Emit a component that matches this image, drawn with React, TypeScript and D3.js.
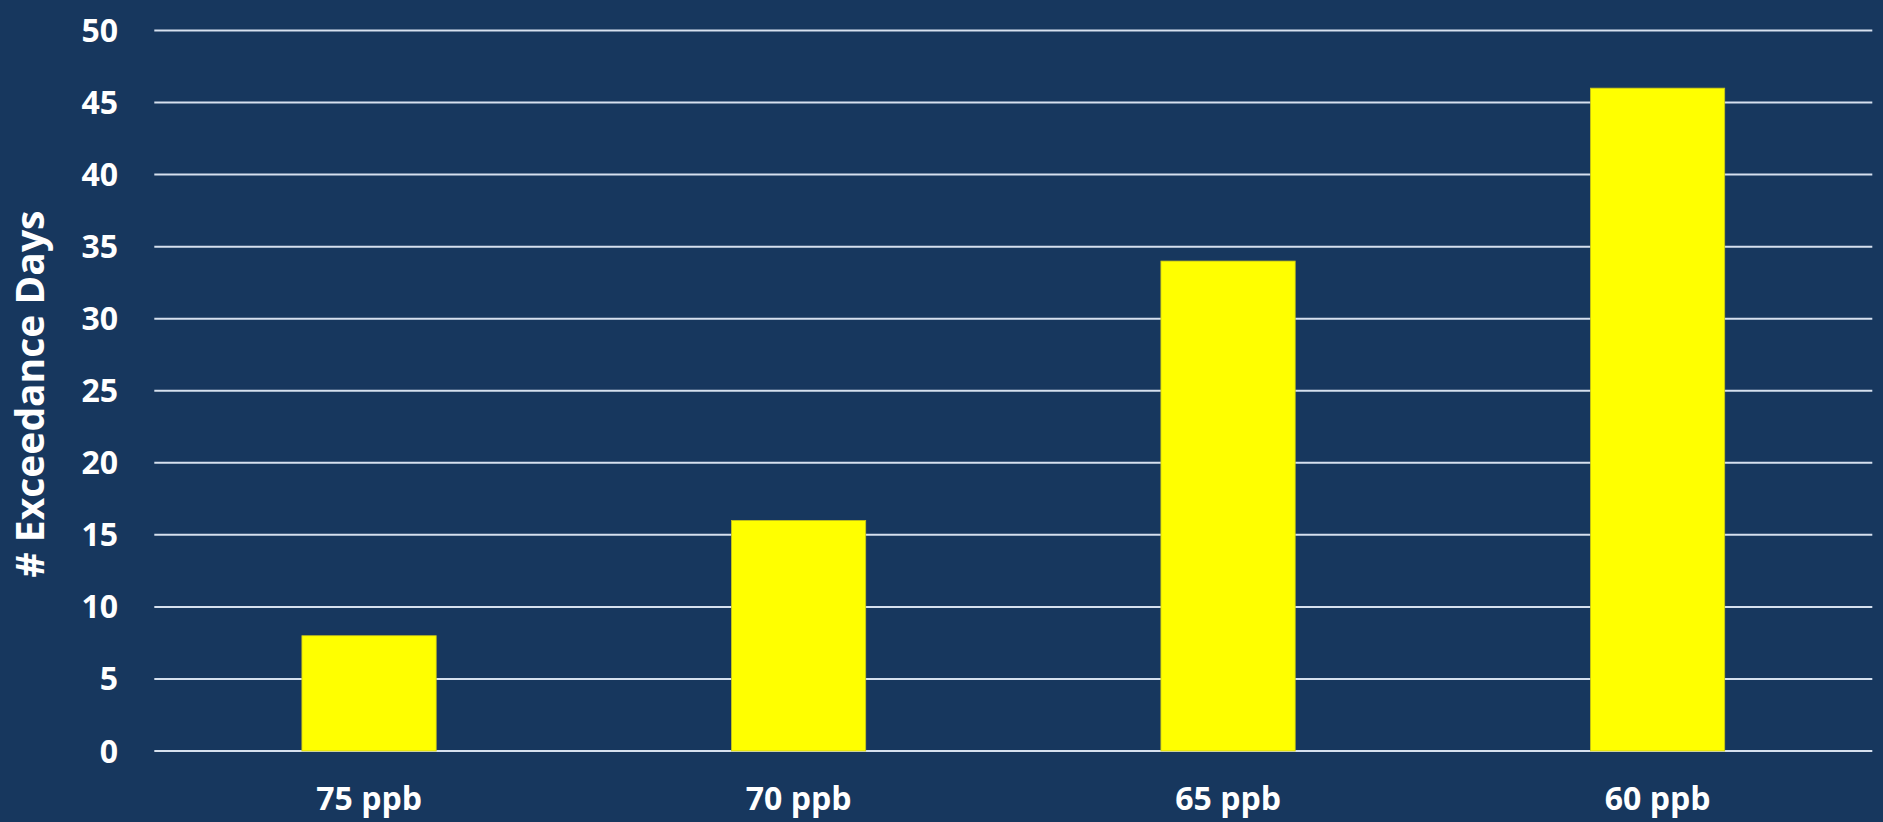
import React, { useEffect } from "react";
import * as d3 from "d3";

const categories: string[] = ["75 ppb", "70 ppb", "65 ppb", "60 ppb"];
const exceedanceDays: number[] = [8, 16, 34, 46];
const yTicks: number[] = [0, 5, 10, 15, 20, 25, 30, 35, 40, 45, 50];
const yTitle = "# Exceedance Days";

const W = 1883;
const H = 822;
const BG = "#17375E";
const FONT = "'Open Sans', 'Noto Sans', sans-serif";

export default function App() {
  useEffect(() => {
    document.body.style.margin = "0";
  }, []);

  const left = 154.3;
  const right = 1872.3;
  const top = 30.5;
  const bottom = 751;

  const x = d3.scaleBand<string>().domain(categories).range([left, right]).padding(0);
  const y = d3.scaleLinear().domain([0, 50]).range([bottom, top]);
  const barW = x.bandwidth() * 0.3127;

  return (
    <svg
      width={W}
      height={H}
      style={{ position: "absolute", left: 0, top: 0, display: "block" }}
    >
      <rect x={0} y={0} width={W} height={H} fill={BG} />
      {yTicks.map((t) => (
        <g key={t}>
          <line
            x1={left}
            x2={right}
            y1={y(t)}
            y2={y(t)}
            stroke="#D6E0EE"
            strokeWidth={2}
          />
          <text
            x={118}
            y={y(t)}
            dy="0.36em"
            textAnchor="end"
            fill="#FFFFFF"
            fontFamily={FONT}
            fontWeight={700}
            fontSize={32}
          >
            {t}
          </text>
        </g>
      ))}
      {categories.map((c, i) => {
        const cx = (x(c) as number) + x.bandwidth() / 2;
        return (
          <g key={c}>
            <rect
              x={cx - barW / 2}
              y={y(exceedanceDays[i])}
              width={barW}
              height={y(0) - y(exceedanceDays[i])}
              fill="#FFFF00"
              stroke="#C9C41A"
              strokeWidth={0.8}
            />
            <text
              x={cx}
              y={810}
              textAnchor="middle"
              fill="#FFFFFF"
              fontFamily={FONT}
              fontWeight={700}
              fontSize={32}
            >
              {c}
            </text>
          </g>
        );
      })}
      <text
        transform={`translate(30,394) rotate(-90)`}
        dy="0.36em"
        textAnchor="middle"
        fill="#FFFFFF"
        fontFamily={FONT}
        fontWeight={700}
        fontSize={39}
      >
        {yTitle}
      </text>
    </svg>
  );
}
